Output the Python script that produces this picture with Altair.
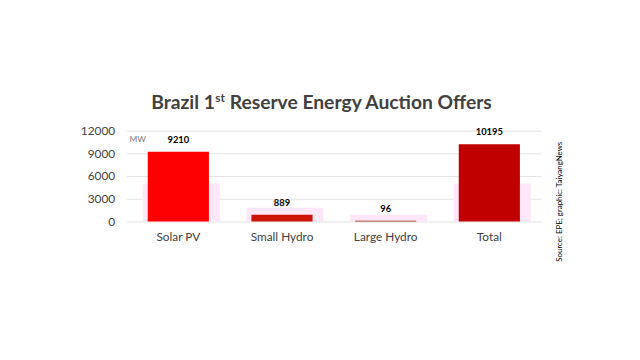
import altair as alt
import pandas as pd

categories = ["Solar PV", "Small Hydro", "Large Hydro", "Total"]
values = [9210, 889, 96, 10195]
colors = ["#FF0000", "#CC1408", "#8E2A0C", "#C00000"]
halo = [5000, 1800, 900, 5000]
y_ticks = [0, 3000, 6000, 9000, 12000]

df = pd.DataFrame({"cat": categories, "mw": values, "color": colors, "halo": halo})

FONT = "Lato"
x_axis = alt.Axis(labelAngle=0, labelFont=FONT, labelFontSize=12,
                  labelColor="#404040", ticks=False, domain=False,
                  grid=False, labelPadding=10)
x_scale = alt.Scale(paddingInner=0.41, paddingOuter=0.205)
y_axis = alt.Axis(values=y_ticks, format="d", labelOverlap=False,
                  labelFont=FONT, labelFontSize=12,
                  labelColor="#404040", ticks=False, domain=False,
                  gridColor="#e3e3e3", labelPadding=12)
y_scale = alt.Scale(domain=[0, 12000], nice=False)

x_enc = alt.X("cat:N", sort=categories, title=None, scale=x_scale, axis=x_axis)
y_enc = alt.Y("mw:Q", title=None, scale=y_scale, axis=y_axis)

base = alt.Chart(df)
glow = base.mark_bar(size=78, xOffset=3, color="#FFE6F8").encode(
    x=x_enc, y=alt.Y("halo:Q", title=None, scale=y_scale, axis=y_axis)
)
bars = base.mark_bar().encode(
    x=x_enc, y=y_enc,
    color=alt.Color("color:N", scale=None),
)
labels = base.mark_text(dy=-7, font=FONT, fontSize=9.5, fontWeight="bold",
                        color="#000000", baseline="bottom").encode(
    x=x_enc, y=y_enc, text="mw:Q")

mw = alt.Chart(pd.DataFrame({"t": ["MW"]})).mark_text(
    font=FONT, fontSize=8.5, color="#7f7f7f", align="left", baseline="middle"
).encode(x=alt.value(3), y=alt.value(9), text="t:N")

title1 = alt.Chart(pd.DataFrame({"t": ["Brazil 1"]})).mark_text(
    font=FONT, fontSize=19.5, fontWeight="bold", color="#404040",
    align="right", baseline="alphabetic"
).encode(x=alt.value(89.5), y=alt.value(-22), text="t:N")
title2 = alt.Chart(pd.DataFrame({"t": ["st"]})).mark_text(
    font=FONT, fontSize=12, fontWeight="bold", color="#404040",
    align="left", baseline="alphabetic"
).encode(x=alt.value(90), y=alt.value(-29), text="t:N")
title3 = alt.Chart(pd.DataFrame({"t": ["Reserve Energy Auction Offers"]})).mark_text(
    font=FONT, fontSize=19.5, fontWeight="bold", color="#404040",
    align="left", baseline="alphabetic"
).encode(x=alt.value(104.5), y=alt.value(-22), text="t:N")

source = alt.Chart(pd.DataFrame({"t": ["Source: EPE; graphic: TaiyangNews"]})).mark_text(
    font=FONT, fontSize=8, color="#000000", angle=270,
    align="center", baseline="middle"
).encode(x=alt.value(439), y=alt.value(72), text="t:N")

chart = alt.layer(glow, bars, labels, mw, title1, title2, title3, source).properties(
    width=420, height=92,
    background="#ffffff",
    autosize=alt.AutoSizeParams(type="none"),
    padding={"left": 120, "top": 122, "right": 92, "bottom": 130},
).configure_view(stroke=None)

chart.save("out.html", embed_options={"renderer": "svg", "actions": False})
